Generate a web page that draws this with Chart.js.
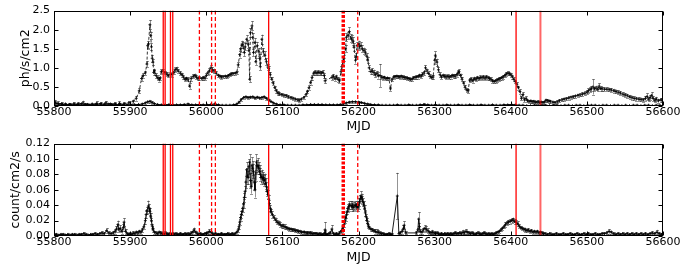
<!DOCTYPE html>
<html><head><meta charset="utf-8">
<script src="https://cdn.jsdelivr.net/npm/chart.js@4/dist/chart.umd.min.js"></script>
<style>
body{margin:0;background:#fff;width:684px;height:266px;overflow:hidden}
.w{position:absolute;left:0;width:684px;height:133px}
canvas{display:block}
</style></head><body>
<div class="w" style="top:0"><canvas id="c1"></canvas></div>
<div class="w" style="top:133px"><canvas id="c2"></canvas></div>
<script>
// ---------- axis ticks ----------
const xTicks = [55800,55900,56000,56100,56200,56300,56400,56500,56600];
const yTicksTop = [0,0.5,1.0,1.5,2.0,2.5];
const yTicksBot = [0,0.02,0.04,0.06,0.08,0.10,0.12];

// ---------- vertical marker lines (MJD) ----------
const vSolid = [55943.5,55946,55953,55956,56082,56407];
const vDashed = [55991,56007,56012,56199];
const vDotted = [56180];
const vFaint = [56439];

// ---------- top panel, upper (dashed) series ----------
const mjdA = [
55801,55805,55810,55815,55820,55826,55832,55838,55844,55850,
55856,55862,55868,55874,55880,55886,55892,55898,55904,55908,
55912,55915,55917,55920,55922,55923,55924,55926,55927,55928,
55929,55930,55931,55932,55934,55936,55938,55939,55941,55943,
55946,55948,55950,55953,55955,55957,55959,55961,55963,55966,
55968,55970,55972,55974,55976,55978,55980,55983,55985,55987,
55989,55991,55994,55996,55998,56000,56002,56004,56006,56008,
56010,56013,56016,56018,56020,56022,56025,56027,56029,56031,
56033,56035,56038,56040,56042,56044,56045,56047,56048,56050,
56051,56053,56055,56056,56057,56058,56060,56061,56062,56064,
56065,56067,56069,56070,56071,56073,56075,56077,56079,56081,
56082,56084,56086,56088,56090,56092,56094,56096,56099,56102,
56105,56108,56111,56114,56117,56120,56122,56125,56128,56131,
56133,56135,56137,56139,56141,56143,56145,56147,56149,56151,
56153,56155,56156,56165,56167,56169,56171,56173,56175,56177,
56178,56180,56181,56183,56184,56186,56188,56190,56191,56193,
56194,56196,56197,56198,56200,56201,56203,56205,56207,56209,
56211,56212,56214,56216,56218,56220,56222,56224,56226,56228,
56230,56232,56234,56236,56238,56240,56242,56244,56246,56248,
56250,56252,56254,56256,56258,56260,56262,56264,56266,56268,
56270,56272,56274,56276,56278,56280,56282,56284,56286,56288,
56290,56292,56294,56296,56298,56300,56301,56303,56305,56307,
56309,56311,56313,56315,56317,56319,56321,56323,56325,56327,
56329,56331,56332,56334,56336,56338,56340,56342,56344,56346,
56348,56350,56352,56354,56356,56358,56360,56362,56364,56366,
56368,56370,56372,56374,56376,56378,56380,56382,56384,56386,
56388,56390,56392,56394,56396,56398,56400,56402,56404,56406,
56408,56410,56412,56414,56416,56418,56420,56422,56424,56426,
56428,56430,56432,56434,56436,56438,56440,56442,56444,56446,
56448,56450,56452,56455,56458,56461,56464,56467,56470,56473,
56476,56479,56482,56485,56488,56491,56494,56497,56500,56502,
56504,56506,56508,56510,56512,56514,56516,56518,56520,56523,
56526,56529,56532,56535,56538,56541,56544,56547,56550,56553,
56556,56559,56562,56565,56568,56571,56574,56577,56579,56581,
56583,56585,56587,56589,56591,56594,56597,56599];
const fluxA = [
.10,.07,.06,.05,.04,.06,.05,.08,.04,.05,
.07,.06,.08,.05,.06,.07,.06,.08,.12,.20,
.40,.72,.80,.87,1.10,1.58,1.62,2.13,1.85,1.55,
1.25,1.15,.88,.92,.80,.74,.70,.72,.90,.92,
.88,.84,.80,.84,.82,.88,.95,.97,.92,.86,
.82,.76,.70,.72,.70,.52,.72,.78,.80,.76,
.72,.74,.72,.74,.73,.80,.87,.92,1.00,.95,
.92,.86,.80,.78,.76,.77,.78,.77,.80,.82,
.84,.85,.86,.88,1.08,1.35,1.50,1.62,1.60,1.40,
1.55,1.75,1.62,1.45,.70,1.92,2.10,1.80,1.40,1.67,
1.16,1.58,1.42,1.25,1.03,1.75,1.42,1.33,1.16,1.02,
.98,.82,.70,.60,.48,.40,.34,.32,.30,.28,
.27,.24,.22,.20,.18,.16,.15,.18,.22,.30,
.38,.48,.62,.75,.86,.88,.86,.88,.87,.86,
.88,.80,.66,.75,.78,.72,.76,.70,.66,.90,
1.03,1.20,1.25,1.50,1.80,1.85,1.95,1.78,1.75,1.70,
1.54,1.20,1.30,1.58,1.62,1.55,1.58,1.50,1.45,1.41,
1.30,1.20,1.00,.90,.92,.88,.82,.85,.80,.80,
.76,.74,.75,.72,.73,.72,.45,.70,.76,.77,
.78,.77,.76,.78,.76,.75,.74,.73,.72,.70,
.70,.74,.75,.76,.77,.80,.78,.83,.86,1.00,
.92,.85,.78,.75,.76,1.20,1.33,1.15,.95,.82,
.76,.80,.78,.76,.78,.76,.77,.80,.79,.78,
.82,.88,.90,.80,.70,.60,.49,.42,.40,.68,
.70,.66,.72,.70,.74,.72,.75,.74,.76,.73,
.76,.74,.72,.70,.66,.64,.66,.68,.70,.72,
.74,.76,.80,.84,.86,.85,.82,.77,.70,.64,
.57,.48,.38,.20,.30,.16,.20,.14,.12,.13,
.11,.12,.10,.10,.11,.09,.10,.09,.10,.15,
.14,.13,.12,.10,.09,.11,.14,.16,.18,.19,
.21,.23,.24,.26,.28,.29,.31,.33,.36,.40,
.43,.45,.50,.45,.47,.44,.52,.46,.45,.44,
.44,.43,.42,.40,.38,.36,.34,.31,.29,.27,
.24,.22,.20,.19,.18,.17,.16,.20,.25,.18,
.22,.28,.20,.15,.18,.14,.16,.15];
const errA = [
.06,.05,.04,.04,.04,.04,.05,.06,.04,.04,
.05,.04,.05,.04,.04,.05,.04,.05,.05,.06,
.07,.07,.06,.06,.08,.08,.09,.12,.10,.09,
.09,.08,.07,.06,.06,.06,.06,.05,.06,.05,
.05,.05,.05,.05,.05,.05,.06,.06,.05,.05,
.05,.05,.05,.05,.05,.07,.06,.05,.05,.05,
.05,.05,.05,.05,.05,.06,.06,.07,.08,.07,
.06,.05,.05,.04,.04,.04,.04,.04,.04,.04,
.04,.04,.04,.05,.06,.08,.09,.09,.09,.10,
.09,.10,.10,.10,.08,.12,.12,.11,.10,.11,
.09,.10,.10,.10,.09,.12,.10,.10,.09,.08,
.08,.07,.06,.06,.05,.05,.05,.04,.04,.04,
.04,.04,.04,.04,.04,.04,.04,.04,.04,.05,
.05,.06,.06,.06,.06,.06,.06,.06,.06,.06,
.06,.07,.07,.06,.06,.06,.06,.06,.06,.07,
.07,.08,.08,.09,.10,.10,.11,.10,.10,.10,
.10,.09,.08,.09,.09,.09,.09,.09,.08,.08,
.08,.08,.07,.07,.07,.07,.07,.07,.08,.30,
.05,.05,.04,.04,.04,.04,.05,.04,.04,.04,
.04,.04,.04,.04,.04,.04,.04,.04,.04,.04,
.04,.04,.04,.04,.05,.05,.05,.05,.06,.07,
.06,.06,.05,.05,.05,.10,.10,.09,.07,.06,
.05,.05,.05,.05,.05,.05,.05,.05,.05,.05,
.05,.06,.06,.05,.05,.05,.05,.05,.05,.06,
.05,.05,.05,.05,.05,.05,.05,.05,.05,.05,
.05,.05,.05,.05,.05,.05,.05,.05,.05,.05,
.05,.05,.05,.05,.05,.05,.05,.05,.05,.05,
.05,.05,.06,.05,.06,.05,.05,.04,.04,.04,
.04,.04,.04,.04,.04,.04,.04,.04,.04,.04,
.04,.04,.04,.04,.04,.04,.04,.04,.04,.04,
.04,.04,.04,.04,.04,.04,.05,.05,.05,.06,
.06,.07,.20,.06,.06,.06,.07,.06,.05,.05,
.05,.05,.05,.05,.05,.05,.05,.05,.05,.05,
.05,.05,.05,.05,.05,.05,.05,.06,.08,.06,
.06,.08,.06,.05,.06,.05,.05,.05];

// ---------- top panel, lower (solid) series ----------
const mjdB = [
55801,55806,55811,55816,55821,55826,55831,55836,55841,55846,
55851,55856,55861,55866,55871,55876,55881,55886,55891,55896,
55901,55906,55911,55916,55920,55923,55926,55929,55932,55936,
55941,55946,55951,55956,55961,55966,55971,55976,55981,55986,
55991,55996,56001,56006,56011,56016,56021,56026,56031,56036,
56040,56043,56046,56049,56052,56055,56058,56061,56064,56067,
56070,56073,56076,56079,56082,56085,56088,56092,56097,56102,
56107,56112,56117,56122,56127,56132,56137,56142,56147,56152,
56157,56162,56167,56172,56176,56180,56184,56188,56192,56196,
56200,56204,56208,56212,56216,56221,56226,56231,56236,56241,
56246,56251,56256,56261,56266,56271,56276,56281,56286,56291,
56296,56301,56306,56311,56316,56321,56326,56331,56336,56341,
56346,56351,56356,56361,56366,56371,56376,56381,56386,56391,
56396,56401,56406,56411,56416,56421,56426,56431,56436,56441,
56446,56451,56456,56461,56466,56471,56476,56481,56486,56491,
56496,56501,56506,56511,56516,56521,56526,56531,56536,56541,
56546,56551,56556,56561,56566,56571,56576,56581,56586,56591,
56596];
const fluxB = [
.08,.05,.04,.03,.04,.03,.04,.05,.04,.03,
.03,.04,.05,.04,.05,.04,.03,.04,.03,.03,
.03,.03,.04,.05,.08,.11,.12,.09,.06,.04,
.03,.03,.04,.03,.03,.03,.04,.05,.03,.03,
.04,.03,.03,.04,.05,.03,.02,.02,.02,.03,
.05,.10,.17,.22,.24,.22,.23,.24,.21,.23,
.21,.22,.24,.20,.16,.12,.08,.05,.03,.03,
.02,.02,.02,.02,.03,.03,.04,.04,.04,.04,
.03,.03,.03,.03,.04,.05,.08,.10,.11,.11,
.10,.09,.07,.05,.04,.03,.03,.02,.02,.02,
.02,.03,.02,.02,.03,.02,.02,.03,.04,.03,
.02,.03,.02,.02,.03,.02,.02,.03,.02,.02,
.03,.02,.02,.03,.02,.02,.03,.02,.02,.03,
.03,.04,.03,.02,.02,.01,.01,.02,.01,.01,
.02,.01,.02,.02,.01,.02,.02,.01,.02,.02,
.01,.02,.02,.02,.01,.02,.02,.01,.02,.02,
.01,.02,.01,.02,.02,.01,.02,.02,.01,.02,
.02];
const errB = [
.04,.03,.03,.02,.03,.02,.03,.03,.03,.02,
.02,.03,.03,.03,.03,.03,.02,.03,.02,.02,
.02,.02,.02,.03,.03,.03,.03,.03,.03,.02,
.02,.02,.02,.02,.02,.02,.02,.03,.02,.02,
.02,.02,.02,.02,.02,.02,.01,.01,.01,.02,
.02,.02,.03,.03,.03,.03,.03,.03,.03,.03,
.03,.03,.03,.03,.03,.02,.02,.02,.02,.02,
.01,.01,.01,.01,.01,.01,.02,.02,.02,.02,
.02,.02,.02,.02,.02,.02,.02,.02,.02,.02,
.02,.02,.02,.02,.02,.02,.01,.01,.01,.01,
.01,.02,.01,.01,.02,.01,.01,.02,.03,.02,
.01,.02,.01,.01,.02,.01,.01,.02,.01,.01,
.02,.01,.01,.02,.01,.01,.02,.01,.01,.02,
.02,.02,.02,.01,.01,.01,.01,.01,.01,.01,
.01,.01,.01,.01,.01,.01,.01,.01,.01,.01,
.01,.01,.01,.01,.01,.01,.01,.01,.01,.01,
.01,.01,.01,.01,.01,.01,.01,.01,.01,.01,
.01];

// ---------- bottom panel series ----------
const mjdC = [
55800,55803,55806,55809,55812,55815,55818,55821,55824,55827,
55830,55833,55836,55839,55842,55845,55848,55851,55854,55857,
55860,55863,55866,55869,55872,55875,55878,55880,55882,55884,
55885,55887,55889,55891,55892,55894,55896,55898,55900,55902,
55904,55906,55908,55910,55912,55914,55916,55918,55920,55921,
55922,55924,55925,55926,55927,55928,55929,55930,55932,55934,
55936,55938,55940,55942,55944,55946,55948,55950,55952,55954,
55956,55958,55960,55962,55964,55966,55968,55970,55972,55974,
55976,55978,55980,55982,55984,55986,55988,55990,55992,55994,
55996,55998,56000,56002,56004,56006,56008,56010,56012,56014,
56016,56018,56020,56022,56024,56026,56028,56030,56032,56034,
56036,56038,56040,56042,56043,56044,56045,56046,56047,56048,
56049,56050,56051,56052,56053,56054,56055,56056,56057,56058,
56059,56060,56061,56062,56063,56064,56065,56066,56067,56068,
56069,56070,56071,56072,56073,56074,56075,56076,56077,56078,
56079,56080,56081,56082,56083,56084,56085,56087,56089,56091,
56093,56095,56097,56099,56101,56103,56105,56107,56109,56111,
56113,56115,56117,56119,56121,56123,56125,56127,56129,56131,
56133,56135,56137,56139,56141,56143,56145,56147,56149,56151,
56153,56155,56156,56157,56159,56161,56163,56165,56167,56169,
56171,56173,56175,56177,56178,56179,56180,56181,56182,56183,
56184,56185,56186,56187,56188,56190,56191,56192,56193,56194,
56196,56197,56198,56199,56200,56201,56202,56203,56204,56205,
56206,56207,56208,56209,56210,56211,56212,56213,56214,56216,
56218,56220,56222,56224,56226,56228,56230,56232,56234,56236,
56238,56240,56242,56244,56251,56253,56255,56257,56259,56260,
56262,56276,56278,56279,56280,56281,56283,56285,56287,56289,
56291,56293,56295,56297,56299,56301,56303,56305,56307,56309,
56311,56313,56315,56317,56319,56321,56323,56325,56327,56329,
56331,56333,56335,56337,56339,56341,56343,56345,56347,56349,
56351,56353,56355,56357,56359,56361,56363,56365,56367,56369,
56371,56373,56375,56377,56379,56381,56383,56385,56387,56389,
56391,56393,56395,56397,56399,56401,56403,56405,56407,56409,
56411,56413,56415,56417,56419,56421,56423,56425,56427,56429,
56431,56433,56435,56437,56439,56441,56443,56445,56448,56451,
56454,56457,56460,56463,56466,56469,56472,56475,56478,56481,
56484,56487,56490,56493,56496,56499,56502,56505,56508,56511,
56514,56517,56520,56523,56526,56529,56532,56535,56538,56541,
56544,56547,56550,56553,56556,56559,56562,56565,56568,56571,
56574,56577,56580,56583,56586,56589,56592,56595,56598,56600];
const rateC = [
.002,.002,.001,.002,.002,.001,.002,.001,.002,.002,
.001,.002,.002,.003,.002,.001,.002,.002,.003,.002,
.003,.004,.003,.007,.004,.003,.004,.006,.009,.015,
.008,.010,.006,.011,.018,.006,.003,.002,.003,.002,
.004,.003,.005,.004,.006,.005,.008,.012,.020,.028,
.033,.039,.036,.032,.025,.020,.013,.008,.005,.004,
.003,.005,.004,.003,.002,.004,.003,.002,.003,.002,
.003,.002,.003,.002,.002,.003,.002,.002,.003,.002,
.003,.002,.004,.005,.008,.005,.003,.002,.003,.002,
.002,.003,.003,.004,.006,.005,.003,.002,.003,.002,
.002,.002,.003,.002,.002,.002,.003,.002,.002,.003,
.002,.003,.005,.008,.012,.018,.024,.028,.032,.036,
.042,.050,.058,.070,.086,.078,.076,.090,.096,.072,
.064,.092,.088,.084,.070,.060,.082,.096,.090,.092,
.088,.084,.080,.076,.078,.074,.076,.072,.074,.068,
.064,.058,.054,.048,.042,.036,.031,.028,.024,.021,
.018,.017,.015,.013,.013,.012,.011,.010,.009,.009,
.008,.008,.007,.007,.006,.006,.005,.005,.005,.004,
.004,.004,.004,.003,.003,.003,.003,.002,.003,.002,
.002,.003,.008,.002,.002,.003,.004,.009,.003,.002,
.003,.002,.004,.006,.007,.010,.012,.015,.020,.024,
.027,.032,.036,.038,.040,.040,.038,.040,.037,.039,
.040,.038,.041,.037,.040,.044,.048,.052,.050,.047,
.044,.040,.036,.030,.025,.020,.016,.013,.011,.009,
.008,.007,.006,.005,.005,.004,.003,.003,.002,.002,
.002,.003,.002,.002,.052,.003,.004,.006,.010,.014,
.004,.004,.008,.022,.012,.006,.005,.008,.010,.009,
.007,.005,.004,.005,.004,.003,.004,.003,.002,.003,
.002,.003,.002,.003,.002,.003,.002,.003,.004,.003,
.003,.004,.003,.005,.004,.006,.005,.004,.003,.004,
.003,.002,.003,.004,.003,.002,.003,.004,.003,.002,
.003,.002,.003,.002,.003,.004,.005,.006,.008,.010,
.012,.015,.017,.018,.019,.020,.021,.019,.018,.016,
.013,.011,.010,.009,.008,.007,.008,.006,.007,.005,
.006,.005,.006,.004,.005,.004,.003,.003,.002,.003,
.002,.002,.003,.002,.002,.003,.002,.002,.003,.002,
.002,.003,.002,.002,.003,.002,.003,.002,.002,.003,
.002,.002,.003,.003,.004,.006,.005,.003,.002,.003,
.002,.003,.002,.003,.002,.003,.002,.003,.002,.003,
.002,.003,.002,.003,.004,.003,.005,.003,.002,.003];
const errC = [
.002,.002,.002,.002,.002,.002,.002,.002,.002,.002,
.002,.002,.002,.002,.002,.002,.002,.002,.002,.002,
.002,.002,.002,.003,.002,.002,.002,.003,.004,.005,
.003,.004,.003,.004,.005,.003,.002,.002,.002,.002,
.002,.002,.002,.002,.002,.002,.003,.003,.004,.005,
.005,.007,.006,.005,.005,.004,.003,.003,.002,.002,
.002,.002,.002,.002,.002,.002,.002,.002,.002,.002,
.002,.002,.002,.002,.002,.002,.002,.002,.002,.002,
.002,.002,.002,.002,.003,.002,.002,.002,.002,.002,
.002,.002,.002,.002,.003,.002,.002,.002,.002,.002,
.002,.002,.002,.002,.002,.002,.002,.002,.002,.002,
.002,.002,.002,.003,.003,.004,.004,.005,.005,.005,
.006,.006,.007,.008,.010,.010,.009,.010,.010,.010,
.009,.010,.009,.009,.010,.010,.010,.010,.009,.009,
.008,.008,.008,.008,.008,.007,.007,.007,.007,.007,
.006,.006,.006,.005,.005,.004,.004,.004,.003,.003,
.003,.003,.003,.003,.003,.003,.002,.002,.002,.002,
.002,.002,.002,.002,.002,.002,.002,.002,.002,.002,
.002,.002,.002,.002,.002,.002,.002,.002,.002,.002,
.002,.002,.010,.002,.002,.002,.002,.005,.002,.002,
.002,.002,.002,.002,.002,.003,.003,.003,.003,.004,
.004,.004,.005,.005,.005,.005,.005,.005,.005,.005,
.005,.005,.005,.005,.005,.005,.005,.006,.005,.005,
.005,.005,.004,.004,.004,.003,.003,.003,.002,.002,
.002,.002,.003,.004,.003,.002,.002,.002,.002,.002,
.002,.002,.002,.002,.030,.002,.002,.003,.004,.005,
.002,.002,.003,.009,.005,.003,.002,.003,.004,.004,
.003,.002,.002,.003,.002,.002,.002,.002,.002,.002,
.002,.002,.002,.002,.002,.002,.002,.002,.002,.002,
.002,.002,.002,.003,.002,.003,.002,.002,.002,.002,
.002,.002,.002,.002,.002,.002,.002,.002,.002,.002,
.002,.002,.002,.002,.002,.002,.002,.002,.002,.002,
.002,.003,.003,.003,.003,.003,.003,.003,.003,.003,
.002,.002,.002,.002,.003,.002,.002,.002,.002,.002,
.002,.002,.002,.002,.002,.002,.002,.002,.002,.002,
.002,.002,.002,.002,.002,.002,.002,.002,.002,.002,
.002,.002,.002,.002,.002,.002,.002,.002,.002,.002,
.002,.002,.002,.002,.002,.003,.002,.002,.002,.002,
.002,.002,.002,.002,.002,.002,.002,.002,.002,.002,
.002,.002,.002,.002,.002,.002,.003,.002,.002,.002];

// ---------- helpers ----------
const FONT = "'DejaVu Sans', 'Liberation Sans', sans-serif";
function pts(xs, ys){ return xs.map((x,i)=>({x:x, y:ys[i]})); }

const deco = {
  id:'deco',
  beforeDatasetsDraw(chart){
    const ctx = chart.ctx, xs = chart.scales.x, ys = chart.scales.y, a = chart.chartArea;
    ctx.save();
    ctx.beginPath(); ctx.rect(a.left, a.top, a.right-a.left, a.bottom-a.top); ctx.clip();
    chart.data.datasets.forEach(ds=>{
      if(!ds.errs) return;
      ctx.strokeStyle = 'rgba(0,0,0,0.42)';
      ctx.lineWidth = 1;
      ctx.beginPath();
      ds.data.forEach((p,i)=>{
        const x = Math.round(xs.getPixelForValue(p.x))+0.5;
        const y1 = ys.getPixelForValue(p.y - ds.errs[i]);
        const y2 = ys.getPixelForValue(p.y + ds.errs[i]);
        ctx.moveTo(x, y1); ctx.lineTo(x, y2);
        ctx.moveTo(x-1.5, Math.round(y2)+0.5); ctx.lineTo(x+1.5, Math.round(y2)+0.5);
        ctx.moveTo(x-1.5, Math.round(y1)+0.5); ctx.lineTo(x+1.5, Math.round(y1)+0.5);
      });
      ctx.stroke();
    });
    ctx.restore();
  },
  afterDatasetsDraw(chart){
    const ctx = chart.ctx, xs = chart.scales.x, ys = chart.scales.y, a = chart.chartArea;
    ctx.save();
    ctx.beginPath(); ctx.rect(a.left, a.top, a.right-a.left, a.bottom-a.top); ctx.clip();
    const vl = (vals, color, width, dash) => {
      ctx.strokeStyle = color; ctx.lineWidth = width; ctx.setLineDash(dash);
      vals.forEach(v=>{
        const x = xs.getPixelForValue(v);
        ctx.beginPath(); ctx.moveTo(x, a.top); ctx.lineTo(x, a.bottom); ctx.stroke();
      });
    };
    vl(vSolid, '#ff0000', 1.3, []);
    vl(vFaint, 'rgba(255,0,0,0.6)', 2, []);
    vl(vDashed, '#ff0000', 1.3, [4,2.5]);
    vl(vDotted, '#ff0000', 3.5, [3,1.5]);
    ctx.restore();
    // frame + inward ticks
    ctx.save();
    ctx.strokeStyle = '#000'; ctx.lineWidth = 1; ctx.setLineDash([]);
    const L = Math.round(a.left)+0.5, R = Math.round(a.right)-0.5, T = Math.round(a.top)+0.5, B = Math.round(a.bottom)-0.5;
    ctx.strokeRect(L, T, R-L, B-T);
    ctx.beginPath();
    xs.ticks.forEach(t=>{
      const x = Math.round(xs.getPixelForValue(t.value))+0.5;
      ctx.moveTo(x, B); ctx.lineTo(x, B-4);
      ctx.moveTo(x, T); ctx.lineTo(x, T+4);
    });
    ys.ticks.forEach(t=>{
      const y = Math.round(ys.getPixelForValue(t.value))+0.5;
      ctx.moveTo(L, y); ctx.lineTo(L+4, y);
      ctx.moveTo(R, y); ctx.lineTo(R-4, y);
    });
    ctx.stroke();
    ctx.restore();
  }
};

function makeChart(id, datasets, cfg){
  return new Chart(document.getElementById(id), {
    type:'line',
    data:{datasets:datasets},
    plugins:[deco],
    options:{
      responsive:true, maintainAspectRatio:false, animation:false, events:[],
      devicePixelRatio:1,
      layout:{padding:{left:0, right:21, top:cfg.padTop, bottom:0}},
      plugins:{legend:{display:false}, tooltip:{enabled:false}},
      scales:{
        x:{type:'linear', min:55800, max:56600,
           afterBuildTicks:s=>{ s.ticks = xTicks.map(v=>({value:v})); },
           afterFit:s=>{ s.height = cfg.xH; },
           grid:{display:false, drawTicks:false}, border:{display:false},
           ticks:{autoSkip:false, maxRotation:0, padding:0, color:'#000',
                  font:{family:FONT, size:11}, callback:v=>String(v)},
           title:{display:true, text:'MJD', color:'#000', padding:{top:0,bottom:cfg.xTitlePad},
                  font:{family:FONT, size:12.5, lineHeight:1}}},
        y:{type:'linear', min:cfg.yMin, max:cfg.yMax,
           afterBuildTicks:s=>{ s.ticks = cfg.yTicks.map(v=>({value:v})); },
           afterFit:s=>{ s.width = 54; },
           grid:{display:false, drawTicks:false}, border:{display:false},
           ticks:{autoSkip:false, padding:4, color:'#000',
                  font:{family:FONT, size:11}, callback:v=>v.toFixed(cfg.dec)},
           title:{display:true, text:cfg.yTitle, color:'#000', padding:{top:cfg.yTitlePad, bottom:0},
                  font:{family:FONT, size:12.5, lineHeight:1}}}
      }
    }
  });
}

makeChart('c1', [
  {data:pts(mjdB, fluxB), errs:errB, borderColor:'#000', borderWidth:1, pointStyle:'cross',
   pointRadius:1.5, pointBorderWidth:0.8, pointBorderColor:'#000', fill:false, tension:0},
  {data:pts(mjdA, fluxA), errs:errA, borderColor:'#000', borderWidth:0.8, borderDash:[3,2],
   pointStyle:'cross', pointRadius:1.5, pointBorderWidth:0.8, pointBorderColor:'#000', fill:false, tension:0}
], {padTop:7, xH:27, xTitlePad:0, yMin:0, yMax:2.5, yTicks:yTicksTop, dec:1, yTitle:'ph/s/cm2', yTitlePad:19});

makeChart('c2', [
  {data:pts(mjdC, rateC), errs:errC, borderColor:'#000', borderWidth:0.9, pointStyle:'cross',
   pointRadius:1.5, pointBorderWidth:0.8, pointBorderColor:'#000', fill:false, tension:0}
], {padTop:4, xH:30, xTitlePad:2, yMin:0, yMax:0.12, yTicks:yTicksBot, dec:2, yTitle:'count/cm2/s', yTitlePad:9});
</script>
</body></html>
